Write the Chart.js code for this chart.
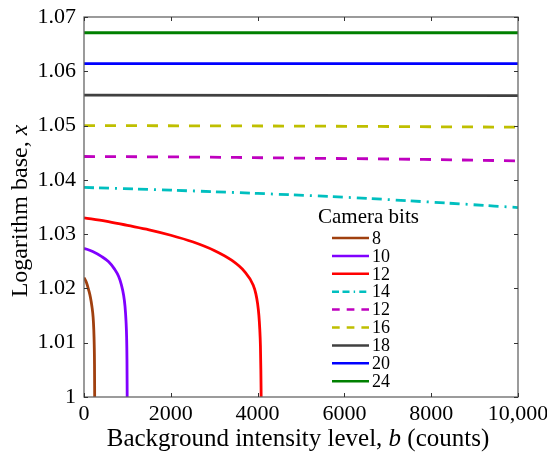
<!DOCTYPE html>
<html>
<head>
<meta charset="utf-8">
<script src="https://cdn.jsdelivr.net/npm/chart.js@4/dist/chart.umd.min.js"></script>
<style>
  html, body { margin: 0; padding: 0; background: #fff; }
  canvas { display: block; }
</style>
</head>
<body>
<canvas id="chart" width="547" height="457"></canvas>
<script>
// values
const bits = ['8', '10', '12', '14', '12', '16', '18', '20', '24'];

const b8 = [0, 60, 108, 150, 184, 210, 225, 236, 242, 246];
const x8 = [1.0220, 1.0210, 1.0197, 1.0183, 1.0166, 1.0147, 1.0125, 1.0095, 1.0060, 1.0];

const b10 = [0, 200, 400, 568, 700, 799, 860, 914, 945, 968, 982, 990, 995];
const x10 = [1.0274, 1.0268, 1.0259, 1.0249, 1.0236, 1.0222, 1.0207, 1.0187, 1.0167, 1.0140, 1.0110, 1.0070, 1.0];

const b12 = [0, 500, 1000, 1500, 2000, 2500, 3000, 3400, 3700, 3900, 3960, 4000, 4030, 4050, 4065, 4075, 4082];
const x12 = [1.0330, 1.0324, 1.0316, 1.0308, 1.0298, 1.0286, 1.0270, 1.0252, 1.0231, 1.0206, 1.0190, 1.0172, 1.0150, 1.0125, 1.0095, 1.0050, 1.0];

const b14 = [0, 2000, 4000, 6000, 8000, 10000];
const x14 = [1.0386, 1.0381, 1.0375, 1.0368, 1.0359, 1.0349];

const b12d = [0, 2500, 5000, 7500, 10000];
const x12d = [1.0443, 1.0442, 1.0440, 1.0438, 1.0435];

const b16 = [0, 5000, 10000];
const x16 = [1.0500, 1.0499, 1.0497];

const b18 = [0, 10000];
const x18 = [1.0556, 1.0555];

const b20 = [0, 10000];
const x20 = [1.0614, 1.0614];

const b24 = [0, 10000];
const x24 = [1.0671, 1.0671];

const xTicks = [0, 2000, 4000, 6000, 8000, 10000];
const yTicks = [1.00, 1.01, 1.02, 1.03, 1.04, 1.05, 1.06, 1.07];

const FONT = '"Liberation Serif", "DejaVu Serif", serif';

function pts(bs, xs) {
    return bs.map((b, i) => ({ x: b, y: xs[i] }));
}

function series(label, bs, xs, color, dash) {
    return {
        label: label,
        data: pts(bs, xs),
        borderColor: color,
        backgroundColor: color,
        borderWidth: 2.8,
        borderDash: dash || [],
        pointRadius: 0,
        fill: false,
        cubicInterpolationMode: 'monotone'
    };
}

const datasets = [
    series(bits[0], b8, x8, '#a0400f'),
    series(bits[1], b10, x10, '#8000ff'),
    series(bits[2], b12, x12, '#ff0000'),
    series(bits[3], b14, x14, '#00bfbf', [10, 5, 10, 6, 2, 6]),
    series(bits[4], b12d, x12d, '#bf00bf', [11, 10]),
    series(bits[5], b16, x16, '#bfbf00', [11, 10]),
    series(bits[6], b18, x18, '#404040'),
    series(bits[7], b20, x20, '#0000ff'),
    series(bits[8], b24, x24, '#008000')
];

function drawMixed(ctx, parts, size, cx, cy) {
    let total = 0;
    parts.forEach(p => {
        ctx.font = (p[1] ? 'italic ' : '') + size + 'px ' + FONT;
        total += ctx.measureText(p[0]).width;
    });
    let x = cx - total / 2;
    ctx.textAlign = 'left';
    ctx.textBaseline = 'middle';
    parts.forEach(p => {
        ctx.font = (p[1] ? 'italic ' : '') + size + 'px ' + FONT;
        ctx.fillText(p[0], x, cy);
        x += ctx.measureText(p[0]).width;
    });
}

const framePlugin = {
    id: 'frame',
    afterDraw(chart) {
        const ctx = chart.ctx;
        const a = chart.chartArea;
        const xs = chart.scales.x;
        const ys = chart.scales.y;
        ctx.save();
        ctx.strokeStyle = '#666';
        ctx.lineWidth = 1.3;
        ctx.strokeRect(a.left, a.top, a.right - a.left, a.bottom - a.top);
        ctx.strokeStyle = '#333';
        ctx.lineWidth = 1;
        ctx.beginPath();
        xTicks.forEach(v => {
            const px = Math.round(xs.getPixelForValue(v)) + 0.5;
            ctx.moveTo(px, a.bottom); ctx.lineTo(px, a.bottom - 4);
            ctx.moveTo(px, a.top); ctx.lineTo(px, a.top + 4);
        });
        yTicks.forEach(v => {
            const py = Math.round(ys.getPixelForValue(v)) + 0.5;
            ctx.moveTo(a.left, py); ctx.lineTo(a.left + 4, py);
            ctx.moveTo(a.right, py); ctx.lineTo(a.right - 4, py);
        });
        ctx.stroke();

        // axis titles with italic symbols
        ctx.fillStyle = '#000';
        drawMixed(ctx, [['Background intensity level, ', false], ['b', true], [' (counts)', false]], 25,
            (a.left + a.right) / 2 - 3, 439);
        ctx.translate(21, (a.top + a.bottom) / 2 + 4);
        ctx.rotate(-Math.PI / 2);
        drawMixed(ctx, [['Logarithm base, ', false], ['x', true]], 24, 0, 0);
        ctx.restore();
    }
};

const legendPlugin = {
    id: 'insideLegend',
    afterDraw(chart) {
        const ctx = chart.ctx;
        ctx.save();
        ctx.fillStyle = '#000';
        ctx.font = '21px ' + FONT;
        ctx.textAlign = 'left';
        ctx.textBaseline = 'middle';
        ctx.fillText('Camera bits', 318, 217);
        ctx.font = '18px ' + FONT;
        chart.data.datasets.forEach((ds, i) => {
            const y = 238 + i * 17.9;
            ctx.strokeStyle = ds.borderColor;
            ctx.lineWidth = 2.5;
            ctx.setLineDash(ds.borderDash.length ? ds.borderDash.map(d => d * 0.7) : []);
            ctx.beginPath();
            ctx.moveTo(332, y);
            ctx.lineTo(369, y);
            ctx.stroke();
            ctx.setLineDash([]);
            ctx.fillText(ds.label, 372, y + 1);
        });
        ctx.restore();
    }
};

new Chart(document.getElementById('chart').getContext('2d'), {
    type: 'line',
    data: { datasets: datasets },
    options: {
        responsive: false,
        animation: false,
        layout: { padding: { left: 0, top: 17, right: 29, bottom: 0 } },
        plugins: {
            legend: { display: false },
            tooltip: { enabled: false }
        },
        scales: {
            x: {
                type: 'linear',
                min: 0,
                max: 10000,
                afterFit: s => { s.height = 60; s.paddingLeft = 0; s.paddingRight = 0; },
                afterBuildTicks: s => { s.ticks = xTicks.map(v => ({ value: v })); },
                grid: { display: false, drawTicks: false },
                border: { display: false },
                ticks: {
                    color: '#000',
                    padding: 4,
                    maxRotation: 0,
                    font: { family: FONT, size: 22 },
                    callback: v => v === 10000 ? '10,000' : String(v)
                }
            },
            y: {
                type: 'linear',
                min: 1,
                max: 1.07,
                afterFit: s => { s.width = 84; s.paddingTop = 0; s.paddingBottom = 0; },
                afterBuildTicks: s => { s.ticks = yTicks.map(v => ({ value: v })); },
                grid: { display: false, drawTicks: false },
                border: { display: false },
                ticks: {
                    color: '#000',
                    padding: 8,
                    font: { family: FONT, size: 22 },
                    callback: v => Math.abs(v - 1) < 1e-9 ? '1' : v.toFixed(2)
                }
            }
        }
    },
    plugins: [framePlugin, legendPlugin]
});
</script>
</body>
</html>
